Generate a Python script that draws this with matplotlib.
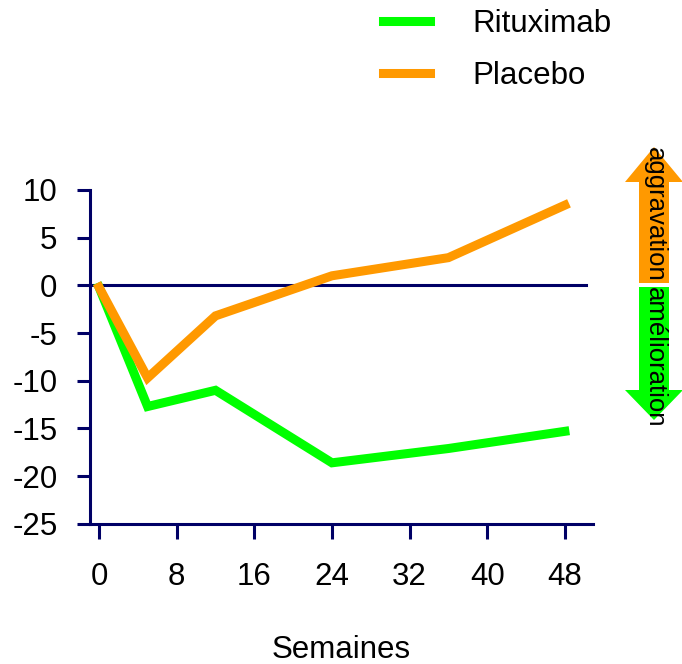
import matplotlib
matplotlib.use("Agg")
import matplotlib.pyplot as plt
from matplotlib.patches import FancyArrow

plt.rcParams['font.family'] = ['Liberation Sans', 'DejaVu Sans']
plt.rcParams['axes.unicode_minus'] = False

weeks = [0, 5, 12, 24, 36, 48]
rituximab = [-0.2, -12.7, -11.0, -18.6, -17.1, -15.3]
placebo = [-0.2, -9.7, -3.2, 1.0, 2.9, 8.4]
xticks = [0, 8, 16, 24, 32, 40, 48]
yticks = [10, 5, 0, -5, -10, -15, -20, -25]

navy = '#000066'
green = '#00FF00'
orange = '#FF9900'
fs = 22.5

fig = plt.figure(figsize=(6.82, 6.64), dpi=100)
ax = fig.add_axes([0.132, 0.211, 0.7375, 0.503])

ax.axhline(0, xmin=0, xmax=0.986, color=navy, lw=2.2, zorder=1)
ax.plot(weeks, rituximab, color=green, lw=6.5, label='Rituximab', solid_joinstyle='miter', zorder=3)
ax.plot(weeks, placebo, color=orange, lw=6.5, label='Placebo', solid_joinstyle='miter', zorder=3)

ax.set_xlim(-0.93, 50.9)
ax.set_ylim(-25, 10)
ax.set_xticks(xticks)
ax.set_yticks(yticks)
for s in ['top', 'right']:
    ax.spines[s].set_visible(False)
for s in ['left', 'bottom']:
    ax.spines[s].set_color(navy)
    ax.spines[s].set_linewidth(2.2)
ax.tick_params(axis='both', colors=navy, width=2.2, labelcolor='black', labelsize=fs)
ax.tick_params(axis='y', length=9.5, pad=14)
ax.tick_params(axis='x', length=10.5, pad=17)
ax.set_xlabel('Semaines', fontsize=fs, labelpad=31)

leg = fig.legend(loc='upper left', bbox_to_anchor=(0.521, 1.029), frameon=False,
                 fontsize=fs, handlelength=1.5, handletextpad=1.33, labelspacing=0.7)

# Arrows (inches from bottom-left)
t = fig.dpi_scale_trans
fig.add_artist(FancyArrow(6.54, 3.81, 0, 1.36, width=0.30, head_width=0.58, head_length=0.35,
                          length_includes_head=True, color=orange, transform=t, lw=0))
fig.add_artist(FancyArrow(6.54, 3.77, 0, -1.33, width=0.30, head_width=0.58, head_length=0.30,
                          length_includes_head=True, color=green, transform=t, lw=0))
fig.text(6.545 / 6.82, (6.64 - 2.14) / 6.64, 'aggravation', rotation=-90, ha='center', va='center',
         fontsize=18.5)
fig.text(6.545 / 6.82, (6.64 - 3.57) / 6.64, 'amélioration', rotation=-90, ha='center', va='center',
         fontsize=18.5)

fig.savefig('out.png', dpi=100)
